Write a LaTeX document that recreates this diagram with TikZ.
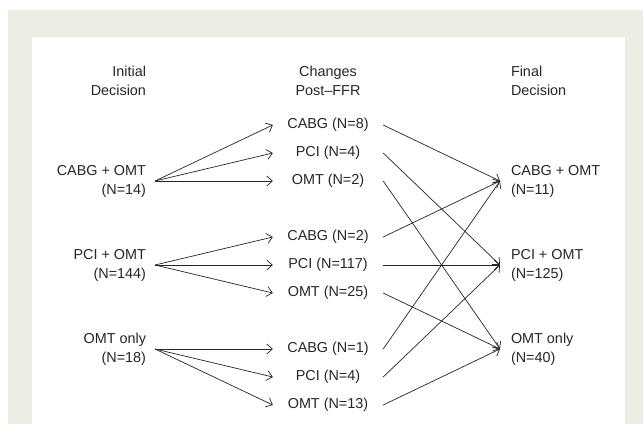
\documentclass[tikz,border=0pt]{standalone}
\usepackage{fontspec}
\setmainfont{Liberation Sans}
\usetikzlibrary{arrows.meta}
\definecolor{framebg}{HTML}{EEEDE3}
\definecolor{ink}{HTML}{262626}

\begin{document}
\begin{tikzpicture}[
    x=1pt, y=-1pt,
    every node/.style={font=\fontsize{14.4}{19}\selectfont, text=ink},
    initial/.style={anchor=east, align=right, inner sep=0pt, outer xsep=9pt},
    change/.style={minimum width=110pt, inner sep=0pt},
    final/.style={anchor=west, align=left, inner sep=0pt, outer xsep=11pt},
    link/.style={-{Straight Barb[length=5.5pt,width=10pt]}, draw=ink, line width=0.7pt}
  ]
  \fill[framebg] (8,10) rectangle (643,424);
  \fill[white] (32,37) rectangle (625,424);
  \useasboundingbox (0,0) rectangle (643,424);

  % column headings
  \node[initial] (hInit) at (155,81) {Initial\\Decision};
  \node[change, align=center] (hChange) at (328,81) {Changes\\Post--FFR};
  \node[final] (hFinal) at (500,81) {Final\\Decision};

  % initial decision
  \node[initial] (cabgIn) at (155,181) {CABG + OMT\\(N=14)};
  \node[initial] (pciIn) at (155,265) {PCI + OMT\\(N=144)};
  \node[initial] (omtIn) at (155,349) {OMT only\\(N=18)};

  % changes post-FFR
  \node[change] (cabgA) at (328,125) {CABG (N=8)};
  \node[change] (pciA) at (328,153) {PCI (N=4)};
  \node[change] (omtA) at (328,181) {OMT (N=2)};
  \node[change] (cabgB) at (328,237) {CABG (N=2)};
  \node[change] (pciB) at (328,265) {PCI (N=117)};
  \node[change] (omtB) at (328,293) {OMT (N=25)};
  \node[change] (cabgC) at (328,349) {CABG (N=1)};
  \node[change] (pciC) at (328,377) {PCI (N=4)};
  \node[change] (omtC) at (328,405) {OMT (N=13)};

  % final decision
  \node[final] (cabgOut) at (500,181) {CABG + OMT\\(N=11)};
  \node[final] (pciOut) at (500,265) {PCI + OMT\\(N=125)};
  \node[final] (omtOut) at (500,349) {OMT only\\(N=40)};

  \draw[link] (cabgIn.east) -- (cabgA.west);
  \draw[link] (cabgIn.east) -- (pciA.west);
  \draw[link] (cabgIn.east) -- (omtA.west);
  \draw[link] (pciIn.east) -- (cabgB.west);
  \draw[link] (pciIn.east) -- (pciB.west);
  \draw[link] (pciIn.east) -- (omtB.west);
  \draw[link] (omtIn.east) -- (cabgC.west);
  \draw[link] (omtIn.east) -- (pciC.west);
  \draw[link] (omtIn.east) -- (omtC.west);

  \draw[link] (cabgA.east) -- (cabgOut.west);
  \draw[link] (pciA.east) -- (pciOut.west);
  \draw[link] (omtA.east) -- (omtOut.west);
  \draw[link] (cabgB.east) -- (cabgOut.west);
  \draw[link] (pciB.east) -- (pciOut.west);
  \draw[link] (omtB.east) -- (omtOut.west);
  \draw[link] (cabgC.east) -- (cabgOut.west);
  \draw[link] (pciC.east) -- (pciOut.west);
  \draw[link] (omtC.east) -- (omtOut.west);
\end{tikzpicture}
\end{document}
